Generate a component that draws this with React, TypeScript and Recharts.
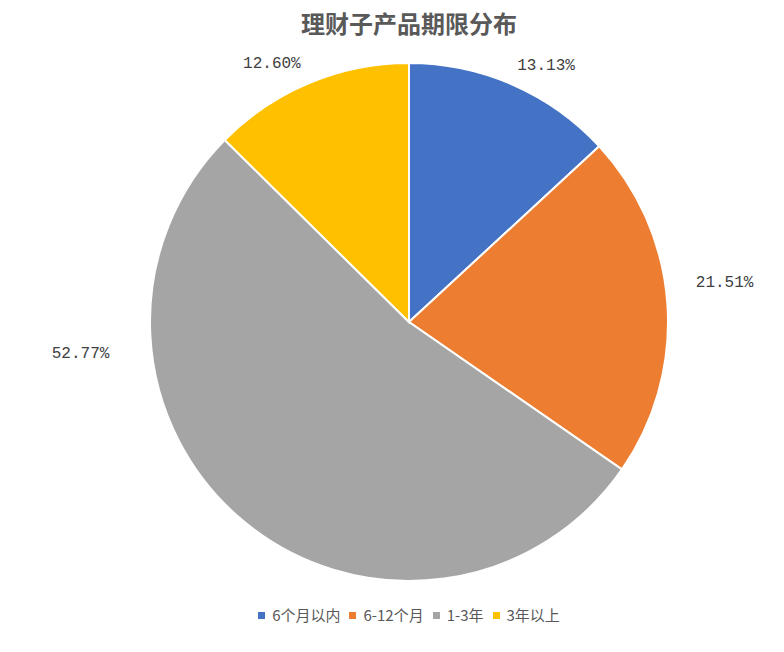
import { PieChart, Pie, Cell } from "recharts";

const categories = ["6个月以内", "6-12个月", "1-3年", "3年以上"];
const shares = [13.13, 21.51, 52.77, 12.6];
const colors = ["#4472C4", "#ED7D31", "#A5A5A5", "#FFC000"];
// label placement around the pie: angle (deg, ccw from 3 o'clock) and distance from centre
const labelAngles = [61.8, 7.0, 185.6, 118.0];
const labelRadii = [290, 318, 330, 292];

const data = categories.map((name, i) => ({ name, value: shares[i] }));

const RAD = Math.PI / 180;

function renderLabel(props: any) {
  const { cx, cy, index, value } = props;
  const a = labelAngles[index] * RAD;
  const r = labelRadii[index];
  const x = cx + r * Math.cos(a);
  const y = cy - r * Math.sin(a);
  return (
    <text
      x={x}
      y={y}
      textAnchor="middle"
      dominantBaseline="central"
      fill="#404040"
      fontFamily="'Liberation Mono', monospace"
      fontSize={16}
    >
      {value.toFixed(2)}%
    </text>
  );
}

export default function App() {
  return (
    <div style={{ position: "relative", width: 776, height: 644, background: "#fff" }}>
      <div
        style={{
          position: "absolute",
          top: 0,
          left: 0,
          width: 802,
          textAlign: "center",
          fontFamily: "'Noto Sans CJK SC', sans-serif",
          fontWeight: "bold",
          fontSize: 24,
          color: "#595959",
          lineHeight: "30px",
        }}
      >
        理财子产品期限分布
      </div>
      <PieChart width={776} height={644} margin={{ top: 0, right: 0, bottom: 0, left: 0 }}>
        <Pie
          data={data}
          dataKey="value"
          nameKey="name"
          cx={401}
          cy={314}
          outerRadius={259}
          startAngle={90}
          endAngle={-270}
          stroke="#fff"
          strokeWidth={2}
          label={renderLabel}
          labelLine={false}
          isAnimationActive={false}
        >
          {data.map((d, i) => (
            <Cell key={d.name} fill={colors[i]} />
          ))}
        </Pie>
      </PieChart>
      <div
        style={{
          position: "absolute",
          top: 597,
          left: 0,
          width: 802,
          display: "flex",
          justifyContent: "center",
          gap: 9,
          fontFamily: "'Noto Sans CJK SC', sans-serif",
          fontSize: 15,
          lineHeight: "20px",
          color: "#595959",
        }}
      >
        {categories.map((c, i) => (
          <div key={c} style={{ display: "flex", alignItems: "center" }}>
            <span style={{ width: 7, height: 7, background: colors[i], display: "inline-block", marginRight: 7 }} />
            <span>{c}</span>
          </div>
        ))}
      </div>
    </div>
  );
}
